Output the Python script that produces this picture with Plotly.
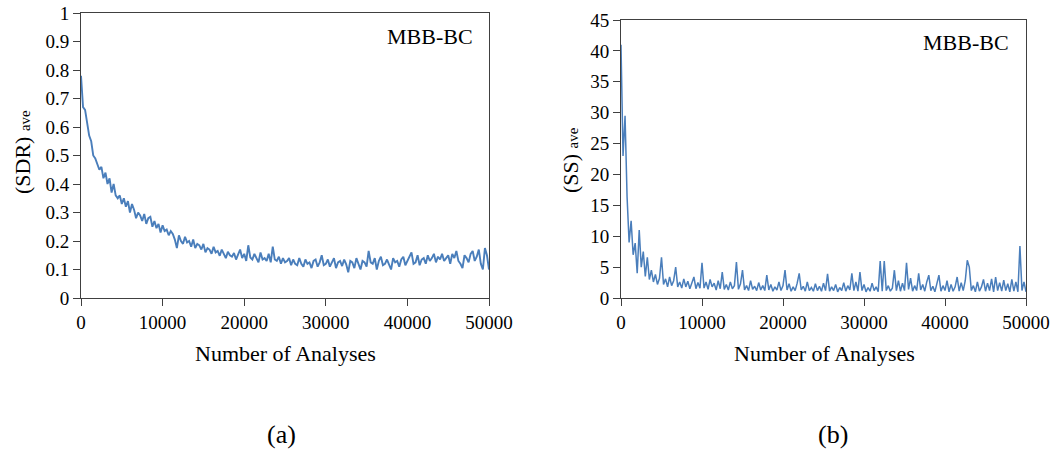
import plotly.graph_objects as go

# x grid: number of analyses (every 250)
analyses = list(range(0, 50001, 250))

sdr_ave = [
    0.78, 0.67, 0.66, 0.61, 0.57, 0.55, 0.50, 0.49, 0.47, 0.45,
    0.46, 0.42, 0.44, 0.40, 0.42, 0.37, 0.40, 0.36, 0.35, 0.36,
    0.33, 0.35, 0.32, 0.34, 0.30, 0.33, 0.31, 0.28, 0.30, 0.29,
    0.27, 0.295, 0.26, 0.28, 0.285, 0.25, 0.27, 0.245, 0.26, 0.23,
    0.255, 0.235, 0.24, 0.22, 0.235, 0.225, 0.205, 0.175, 0.22, 0.20,
    0.19, 0.215, 0.195, 0.20, 0.18, 0.205, 0.175, 0.19, 0.185, 0.17,
    0.19, 0.16, 0.175, 0.17, 0.155, 0.18, 0.16, 0.165, 0.148, 0.17,
    0.155, 0.14, 0.162, 0.15, 0.145, 0.158, 0.135, 0.15, 0.17, 0.14,
    0.155, 0.13, 0.185, 0.142, 0.135, 0.155, 0.14, 0.125, 0.16, 0.135,
    0.14, 0.13, 0.155, 0.125, 0.18, 0.135, 0.13, 0.145, 0.12, 0.14,
    0.125, 0.13, 0.14, 0.115, 0.135, 0.12, 0.115, 0.14, 0.12, 0.11,
    0.135, 0.12, 0.125, 0.105, 0.13, 0.135, 0.11, 0.125, 0.15, 0.115,
    0.12, 0.135, 0.11, 0.125, 0.14, 0.105, 0.125, 0.13, 0.112, 0.135,
    0.118, 0.09, 0.13, 0.125, 0.105, 0.14, 0.12, 0.10, 0.13, 0.125,
    0.11, 0.165, 0.125, 0.12, 0.14, 0.10, 0.13, 0.145, 0.115, 0.12,
    0.135, 0.115, 0.10, 0.14, 0.125, 0.13, 0.11, 0.135, 0.145, 0.115,
    0.13, 0.14, 0.16, 0.12, 0.125, 0.15, 0.115, 0.135, 0.14, 0.12,
    0.15, 0.13, 0.14, 0.155, 0.125, 0.145, 0.135, 0.155, 0.13, 0.14,
    0.15, 0.12, 0.155, 0.14, 0.165, 0.13, 0.12, 0.105, 0.15, 0.14,
    0.125, 0.155, 0.165, 0.13, 0.145, 0.17, 0.12, 0.10, 0.175, 0.15,
    0.10,
]

ss_ave = [
    41, 23, 29.5, 16.4, 9, 12.5, 7, 8.9, 4, 11,
    5, 7.5, 3.5, 6.6, 3, 4.5, 2.6, 3.8, 2.2, 3.2,
    6.6, 2.2, 3.1, 1.8, 3.4, 2.0, 2.8, 5.0, 1.8, 2.6,
    1.6, 3.1, 1.8, 2.7, 1.5, 2.3, 3.4, 1.5, 2.5, 1.6,
    5.7, 1.6, 2.6, 1.4, 3.0, 1.8, 2.4, 1.3, 2.8, 1.5,
    4.2, 1.4, 2.2, 1.3, 2.6, 1.5, 2.0, 5.8, 1.4, 2.3,
    4.5, 1.3, 2.0, 1.2, 2.8, 1.4, 1.9, 1.2, 2.5, 1.3,
    2.0, 1.2, 3.7, 1.3, 2.2, 1.1, 1.8, 1.3, 2.6, 1.2,
    2.0, 4.5, 1.3, 2.3, 1.1, 1.8, 1.2, 2.4, 4.0, 1.3,
    1.9, 1.1, 2.6, 1.2, 1.7, 1.1, 2.3, 1.2, 1.9, 1.1,
    2.4, 1.2, 3.9, 1.1, 1.8, 1.2, 2.2, 1.0, 1.7, 1.2,
    2.5, 1.1, 2.0, 1.3, 4.0, 1.2, 2.6, 1.1, 4.2, 1.2,
    2.2, 1.0, 1.7, 1.1, 2.4, 1.2, 1.8, 1.0, 6.0, 1.1,
    6.0, 1.2, 2.0, 1.1, 1.6, 4.5, 1.2, 2.8, 1.1, 2.4,
    1.2, 5.7, 1.4, 3.2, 1.1, 2.0, 1.2, 4.0, 1.3, 2.2,
    1.1, 2.6, 3.7, 1.2, 1.9, 1.0, 2.4, 3.7, 1.1, 2.0,
    1.2, 2.8, 1.0, 2.2, 1.1, 1.8, 3.4, 1.1, 2.5, 1.2,
    2.8, 6.1, 5.0, 1.2, 2.0, 1.0, 2.6, 1.1, 1.8, 3.0,
    1.1, 2.4, 1.2, 3.1, 1.0, 3.4, 1.2, 2.5, 1.1, 2.9,
    1.2, 2.3, 1.0, 3.0, 1.1, 2.6, 1.0, 8.4, 1.2, 2.6,
    1.0,
]

x_ticks = [0, 10000, 20000, 30000, 40000, 50000]
x_tick_text = ["0", "10000", "20000", "30000", "40000", "50000"]
sdr_ticks = [0, 0.1, 0.2, 0.3, 0.4, 0.5, 0.6, 0.7, 0.8, 0.9, 1]
sdr_tick_text = ["0", "0.1", "0.2", "0.3", "0.4", "0.5", "0.6", "0.7", "0.8", "0.9", "1"]
ss_ticks = [0, 5, 10, 15, 20, 25, 30, 35, 40, 45]

W, H = 1060, 452
LINE_COLOR = "#4A7EBB"
AXIS_COLOR = "#404040"
FONT = "Liberation Serif"

def px_x(p):
    return p / W

def px_y(p):
    return 1 - p / H

fig = go.Figure()
fig.add_trace(go.Scatter(x=analyses, y=sdr_ave, mode="lines",
                         line=dict(color=LINE_COLOR, width=1.9),
                         xaxis="x", yaxis="y", showlegend=False))
fig.add_trace(go.Scatter(x=analyses, y=ss_ave, mode="lines",
                         line=dict(color=LINE_COLOR, width=1.5),
                         xaxis="x2", yaxis="y2", showlegend=False))

common_axis = dict(showline=True, linecolor=AXIS_COLOR, linewidth=1, mirror=True,
                   ticks="outside", tickcolor=AXIS_COLOR, ticklen=7, tickwidth=1,
                   showgrid=False, zeroline=False, automargin=False,
                   tickfont=dict(family=FONT, size=19, color="#000000"))

fig.update_layout(
    template="none",
    width=W, height=H, autosize=False,
    margin=dict(l=0, r=0, t=0, b=0, pad=0, autoexpand=False),
    paper_bgcolor="white", plot_bgcolor="white",
    font=dict(family=FONT, color="#000000"),
    showlegend=False,
    xaxis=dict(domain=[px_x(81), px_x(489)], range=[0, 50000], tickvals=x_ticks,
               ticktext=x_tick_text, anchor="y", **common_axis),
    yaxis=dict(domain=[px_y(298), px_y(13)], range=[0, 1], tickvals=sdr_ticks,
               ticktext=sdr_tick_text, anchor="x", **common_axis),
    xaxis2=dict(domain=[px_x(621), px_x(1026)], range=[0, 50000], tickvals=x_ticks,
                ticktext=x_tick_text, anchor="y2", **common_axis),
    yaxis2=dict(domain=[px_y(298), px_y(20)], range=[0, 45], tickvals=ss_ticks,
                anchor="x2", **common_axis),
)

def ann(text, x, y, size, angle=0, xanchor="center", yanchor="middle"):
    fig.add_annotation(text=text, x=px_x(x), y=px_y(y), xref="paper", yref="paper",
                       showarrow=False, textangle=angle, xanchor=xanchor, yanchor=yanchor,
                       font=dict(family=FONT, size=size, color="#000000"))

ann("MBB-BC", 430, 36, 22)
ann("MBB-BC", 966, 43, 22)
ann("Number of Analyses", 285, 353, 22)
ann("Number of Analyses", 824, 353, 22)
ann("(SDR) <span style='font-size:15px'>ave</span>", 22, 152, 22, angle=-90)
ann("(SS) <span style='font-size:15px'>ave</span>", 570, 160, 22, angle=-90)
ann("(a)", 281, 434, 26)
ann("(b)", 833, 434, 26)

fig.write_html("out.html")
